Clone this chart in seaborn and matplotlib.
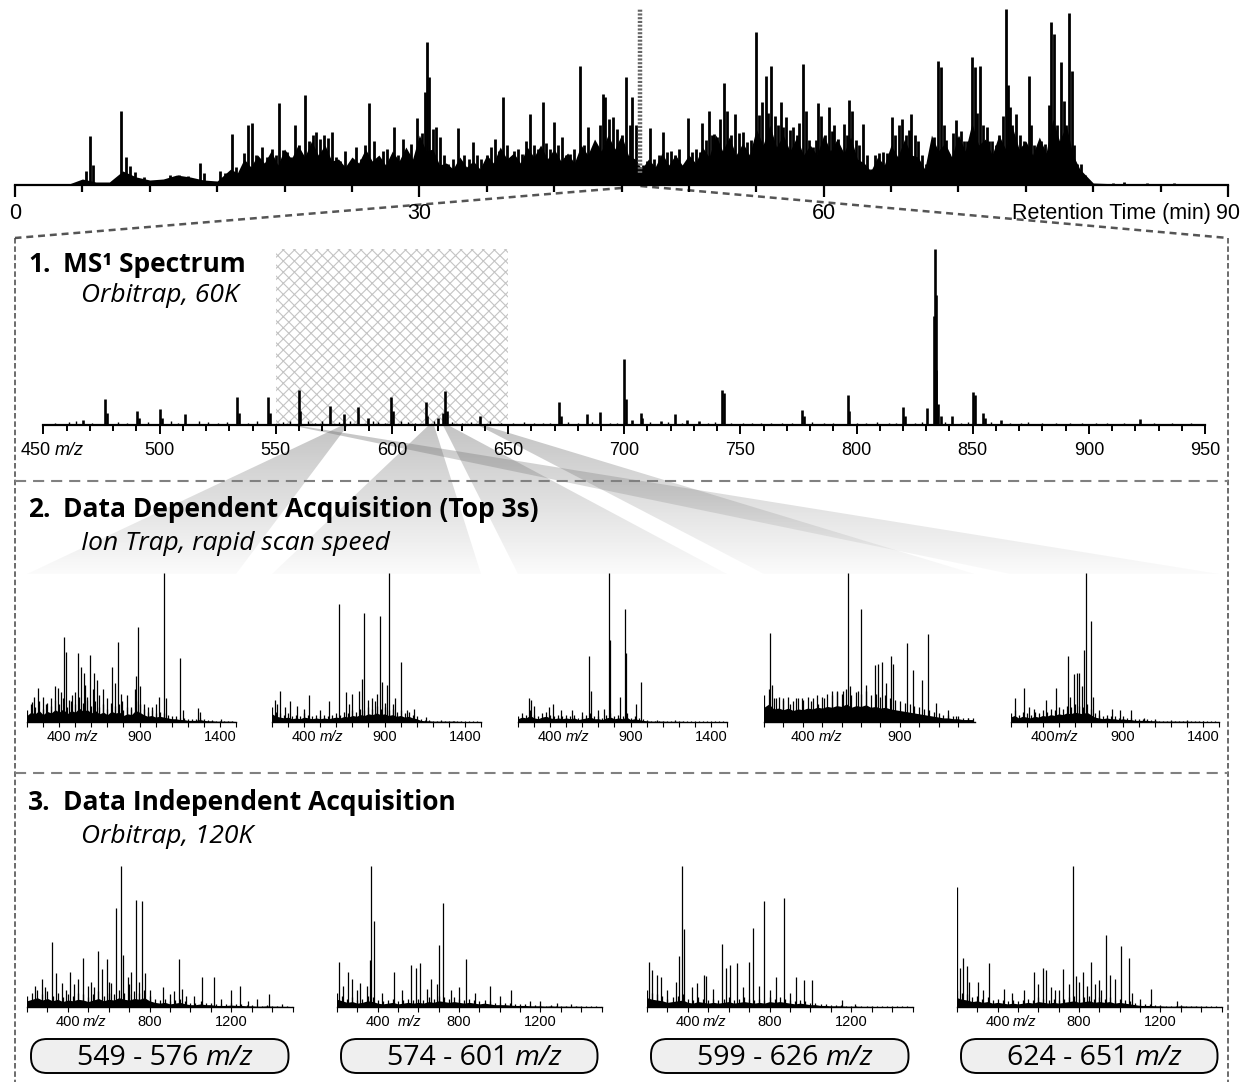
import numpy as np
import matplotlib
matplotlib.use("Agg")
import matplotlib.pyplot as plt
import seaborn as sns
from matplotlib.patches import Polygon, FancyBboxPatch, Rectangle

# ------------------------------------------------------------------ data
# chromatogram: body level (1-min grid), local dips (half minutes) and spikes (min, rel. height)
chrom_env_t = list(range(0, 91))
chrom_env_h = [0, 0, 0, 0, 1, 6, 3, 3, 14, 8, 5, 6, 10, 8, 5, 4, 16, 26, 30, 34,
               36, 40, 44, 40, 26, 28, 36, 30, 34, 38, 50, 36, 22, 28, 24, 30, 38, 32, 38, 40,
               36, 32, 40, 46, 50, 50, 26, 26, 32, 30, 30, 38, 50, 48, 42, 56, 60, 50, 48, 40,
               50, 46, 48, 22, 28, 40, 46, 28, 50, 42, 50, 62, 46, 50, 58, 44, 48, 66, 60, 16,
               2, 1.5, 1.5, 1.5, 1.5, 1.5, 1.5, 1.5, 1.5, 1.5, 1.5]
chrom_dip_t = [16.5, 17.5, 18.5, 19.5, 20.5, 21.5, 22.5, 23.5, 24.5, 25.5, 26.5, 27.5, 28.5,
               29.5, 30.5, 31.5, 32.5, 33.5, 34.5, 35.5, 36.5, 37.5, 38.5, 39.5, 40.5, 41.5,
               42.5, 43.5, 44.5, 45.5, 46.5, 47.5, 48.5, 49.5, 50.5, 51.5, 52.5, 53.5, 54.5,
               55.5, 56.5, 57.5, 58.5, 59.5, 60.5, 61.5, 62.5, 63.5, 64.5, 65.5, 66.5, 67.5,
               68.5, 69.5, 70.5, 71.5, 72.5, 73.5, 74.5, 75.5, 76.5, 77.5, 78.5]
chrom_dip_h = [12, 18, 22, 20, 26, 28, 30, 24, 18, 22, 24, 20, 24,
               26, 34, 20, 16, 18, 16, 22, 26, 22, 28, 26, 24, 22,
               30, 34, 36, 30, 16, 18, 20, 20, 22, 28, 34, 30, 30,
               40, 38, 34, 30, 30, 34, 32, 26, 14, 20, 28, 30, 16,
               34, 28, 34, 40, 30, 36, 36, 30, 32, 44, 30]
chrom_pk_t = [4.8, 5.3, 5.6, 5.8, 7.9, 8.2, 8.5, 8.9, 9.6, 11.5, 12.2, 12.8, 13.7, 14.0, 15.2, 15.6,
              16.1, 16.4, 17.0, 17.3, 17.6, 17.9, 18.3, 18.7, 19.1, 19.4, 19.6, 19.9, 20.2, 20.5,
              20.8, 21.1, 21.5, 21.8, 22.1, 22.3, 22.6, 22.9, 23.2, 23.5, 23.8, 24.1, 24.5, 24.9,
              25.3, 25.7, 26.0, 26.3, 26.6, 26.9, 27.3, 27.6, 28.1, 28.4, 28.8, 29.1, 29.4, 29.8,
              30.2, 30.4, 30.6, 30.75, 31.0, 31.2, 31.5, 31.8, 32.1, 32.5, 32.9, 33.3, 33.7, 34.0,
              34.3, 34.6, 35.0, 35.3, 35.6, 35.9, 36.2, 36.5, 36.8, 37.0, 37.3, 37.6, 37.9, 38.2,
              38.5, 38.8, 39.2, 39.4, 39.7, 40.0, 40.3, 40.6, 40.9, 41.2, 41.5, 41.9, 42.2, 42.5,
              42.8, 43.1, 43.4, 43.6, 43.8, 44.1, 44.4, 44.7, 45.0, 45.3, 45.6, 45.8, 46.1, 46.6,
              46.9, 47.1, 47.4, 47.8, 48.1, 48.4, 48.7, 49.0, 49.3, 49.9, 50.2, 50.5, 50.8, 51.0,
              51.3, 51.5, 51.7, 51.9, 52.1, 52.3, 52.6, 52.8, 53.1, 53.4, 53.7, 54.0, 54.3, 54.6,
              55.0, 55.2, 55.4, 55.7, 55.9, 56.1, 56.4, 56.6, 56.8, 57.0, 57.2, 57.5, 57.7, 58.0,
              58.2, 58.5, 58.7, 58.9, 59.2, 59.4, 59.6, 59.8, 60.1, 60.4, 60.6, 60.8, 61.1, 61.5,
              61.7, 61.9, 62.1, 62.4, 62.6, 62.9, 63.2, 63.5, 63.8, 64.1, 64.4, 64.7, 65.1, 65.3,
              65.6, 65.8, 66.1, 66.3, 66.5, 66.8, 67.0, 67.3, 67.6, 67.9, 68.2, 68.5, 68.7, 68.9,
              69.1, 69.3, 69.6, 69.8, 70.0, 70.2, 70.4, 70.6, 71.0, 71.2, 71.4, 71.6, 71.8, 72.1,
              72.3, 72.5, 72.8, 73.0, 73.3, 73.5, 73.7, 73.8, 74.0, 74.3, 74.6, 74.9, 75.2, 75.4,
              75.6, 75.8, 76.1, 76.4, 76.7, 76.9, 77.1, 77.3, 77.6, 77.8, 78.0, 78.2, 78.4, 78.6,
              78.8, 79.1, 79.4, 79.6, 81.5, 82.3, 84.0, 86.0]
chrom_pk_h = [4, 14, 49, 20, 74, 28, 19, 13, 8, 10, 10, 9, 22, 12, 14, 12,
              51, 18, 32, 60, 62, 30, 38, 28, 36, 30, 82, 35, 33, 28,
              60, 40, 90, 44, 50, 53, 46, 50, 47, 53, 28, 24, 34, 22,
              38, 26, 40, 82, 44, 26, 34, 36, 58, 30, 46, 30, 41, 67,
              52, 93, 143, 108, 56, 58, 48, 30, 21, 26, 57, 30, 26, 43,
              30, 26, 30, 38, 46, 34, 88, 40, 28, 34, 36, 31, 44, 71,
              40, 36, 83, 42, 36, 63, 40, 48, 30, 31, 36, 119, 40, 58,
              34, 33, 60, 91, 88, 66, 68, 56, 50, 108, 60, 88, 60, 20,
              24, 57, 26, 30, 53, 33, 34, 30, 36, 67, 33, 36, 33, 62,
              45, 74, 50, 51, 48, 66, 102, 74, 50, 71, 52, 53, 43, 45,
              153, 70, 83, 109, 72, 119, 69, 60, 83, 58, 68, 55, 58, 50,
              62, 121, 74, 45, 38, 45, 82, 69, 50, 78, 54, 60, 46, 61,
              50, 85, 74, 45, 40, 61, 30, 16, 30, 32, 33, 32, 68, 50,
              60, 66, 50, 55, 71, 50, 44, 30, 21, 22, 48, 124, 118, 60,
              45, 31, 52, 65, 48, 54, 44, 44, 128, 118, 72, 119, 60, 58,
              44, 44, 40, 50, 69, 176, 100, 78, 60, 71, 50, 44, 109, 60,
              40, 28, 44, 41, 80, 163, 151, 60, 123, 84, 60, 172, 114, 40,
              21, 21, 10, 4, 2.5, 3, 2, 2]
chrom_ticks = [0, 30, 60, 90]
chrom_window_t = 46.4

# MS1 spectrum (m/z, % of base peak)
ms1_mz = [467, 476.5, 477.2, 490.3, 491.0, 500.3, 501.0, 511.0, 533.3, 534.0,
          546.7, 547.3, 560.0, 560.6, 573.2, 579.5, 585.3, 589.5, 599.6, 600.3,
          614.5, 615.2, 620.0, 621.8, 623.0, 623.6, 638.0, 672.0, 672.6, 684.0,
          689.5, 700.0, 700.6, 703.5, 707.0, 707.6, 716.0, 722.0, 727.0, 732.0,
          742.2, 742.9, 776.6, 777.2, 796.2, 796.8, 820.0, 820.7, 830.5, 833.3,
          833.6, 834.0, 834.4, 835.0, 836.5, 841.0, 850.3, 850.8, 854.5, 855.2,
          862.0, 922.0]
ms1_int = [3, 15, 7, 8, 4, 9, 4, 6, 16, 7,
           16, 7, 20, 8, 11, 6, 10, 4, 16, 8,
           13, 5, 4, 7, 19.5, 8, 5, 13, 5, 6,
           7.5, 37.5, 15, 3, 7, 4, 2, 6, 3, 2.5,
           20, 18, 8.5, 5, 17, 8, 10, 5, 9.5, 62,
           100, 74, 31, 12, 5, 5, 18.5, 17, 6.6, 4,
           3, 3.6]
ms1_minor_mz = [455, 461, 464, 471, 482, 486, 495, 505, 508, 517, 521, 525, 529, 538, 542,
                553, 556, 564, 567, 570, 577, 582, 592, 594, 597, 604, 607, 610, 618, 626,
                630, 634, 642, 647, 652, 657, 661, 665, 668, 676, 680, 686, 694, 697, 711,
                719, 725, 736, 739, 746, 751, 755, 759, 763, 768, 772, 781, 786, 790, 800,
                804, 809, 814, 817, 825, 828, 838, 845, 848, 858, 866, 871, 874, 880, 886,
                892, 897, 903, 908, 915, 928, 936, 944]
ms1_minor_int = [1, 1.5, 2, 1.2, 1.8, 1, 1.5, 2, 1.2, 2.2, 1.5, 1, 1.6, 1.2, 2,
                 1.5, 2.5, 2, 1.4, 2.2, 1.6, 2.5, 2, 1.5, 1.2, 2.4, 1.8, 1.4, 2, 1.6,
                 1.2, 1.8, 2, 1.4, 1.2, 1.6, 1, 1.4, 1.2, 1.6, 1, 1.5, 1.2, 1.4, 1.8,
                 1.5, 1.2, 1, 1.5, 1.2, 1, 1.4, 1.2, 1, 1.4, 1.2, 1.6, 1, 1.2, 1.4,
                 1.2, 1.5, 1, 1.2, 1.4, 1.6, 1.5, 1.2, 1.8, 1.6, 1.2, 1.4, 1.6, 1.2, 1,
                 1.2, 1, 1.2, 1, 1.2, 1, 1.2, 1]
ms1_window = [550, 650]
ms1_ticks = [450, 500, 550, 600, 650, 700, 750, 800, 850, 900, 950]

# DDA MS/MS spectra (noise envelope every 25 m/z from 200; peaks m/z, %)
dda1_noise = [8, 12, 10, 14, 9, 13, 11, 15, 12, 16, 10, 14, 12, 17, 13, 15, 11, 14, 10, 12,
              9, 13, 11, 12, 8, 10, 9, 14, 12, 9, 7, 8, 6, 7, 6, 5, 4, 4, 3, 3,
              2, 2, 2, 3, 2, 1.5, 1.5, 1, 1, 1, 1, 1, 0.5]
dda1_mz = [229, 242, 271, 298, 320, 352, 377, 394, 410, 431, 441, 463, 480, 500, 519, 537, 554,
           560, 573, 593, 610, 618, 635, 650, 672, 700, 726, 745, 763, 782, 790, 820, 844, 870,
           880, 890, 900, 930, 954, 980, 1000, 1023, 1055, 1065, 1151, 1168, 1261, 1274, 1409]
dda1_int = [13.5, 17, 23, 16.5, 12, 16, 24, 23, 20, 57, 47, 15, 18, 20, 46, 37, 33,
            25, 17, 45, 22, 33, 28, 18, 22, 16, 37, 26, 54, 19, 14, 18, 10, 22,
            31, 64, 24, 12, 10, 10, 12, 17, 100, 16, 43, 8, 9.5, 7, 2]
dda2_noise = [10, 7, 6, 5, 6, 4, 5, 4, 6, 5, 4, 5, 4, 5, 4, 5, 6, 5, 7, 6,
              8, 7, 9, 8, 10, 9, 11, 9, 10, 8, 9, 7, 8, 6, 7, 5, 4, 2, 1.5, 1.5,
              1, 1, 1, 1, 1, 1, 0.8, 0.8, 0.5, 0.5, 0.5, 0.5, 0.5]
dda2_mz = [217, 230, 249, 280, 315, 356, 400, 433, 500, 554, 618, 659, 680, 696, 740, 757,
           774, 800, 819, 840, 856, 870, 887, 900, 917, 927, 950, 966, 1005, 1040, 1084,
           1155, 1250, 1330]
dda2_int = [15, 12, 21, 10, 14, 11, 9, 18, 8, 14, 79, 20, 12, 19, 21, 29,
            73, 15, 16, 14, 19, 71, 27, 13, 25, 100, 12, 16, 40, 8, 9,
            3.5, 1.5, 1]
dda3_noise = [4, 6, 5, 8, 5, 4, 6, 7, 5, 4, 5, 4, 5, 4, 5, 3, 4, 5, 6, 4,
              4, 3, 5, 6, 4, 5, 4, 6, 3, 4, 3, 2, 1.5, 1, 1, 1, 1, 0.8, 0.8, 0.8,
              0.8, 0.8, 0.5, 0.5, 0.5, 0.5, 0.5, 0.5, 0.5, 0.5, 0.5, 0.5, 0.5]
dda3_mz = [268, 278, 300, 393, 420, 467, 536, 600, 639, 656, 700, 737, 764, 770, 834, 866,
           873, 932, 964, 1067, 1176]
dda3_int = [16, 15, 11, 10, 12, 8, 8, 7, 44, 21, 8, 9, 100, 55, 17, 76,
            46, 12, 27, 1.5, 1.5]
dda4_noise = [18, 22, 16, 17, 15, 17, 14, 16, 15, 17, 16, 18, 17, 19, 18, 20, 19, 22, 18, 20,
              19, 21, 18, 19, 17, 18, 16, 15, 14, 13, 12, 11, 10, 9, 8, 7, 6, 5, 5, 4,
              4, 3, 3, 3]
dda4_mz = [231, 239, 261, 298, 333, 363, 394, 441, 480, 508, 553, 578, 608, 633, 645, 686,
           702, 727, 771, 790, 808, 829, 857, 867, 939, 969, 1016, 1043, 1088, 1149, 1190, 1251]
dda4_int = [60, 25, 16, 16, 12, 16, 16, 14, 12, 16, 21, 21, 21, 100, 24, 21,
            76, 25, 38, 39, 40, 26, 44, 39, 53, 35, 28, 59, 13, 8, 4, 3]
dda5_noise = [6, 8, 5, 7, 6, 5, 7, 6, 8, 7, 9, 8, 10, 9, 11, 10, 12, 11, 10, 12,
              9, 6, 5, 4, 5, 4, 4, 3, 4, 3, 3, 2, 2, 2, 2, 1.5, 1.5, 1, 1, 1,
              1, 1, 1, 1, 1, 0.8, 0.8, 0.8, 0.5, 0.5, 0.5, 0.5, 0.5]
dda5_mz = [229, 283, 315, 346, 424, 485, 559, 571, 595, 615, 627, 644, 659, 673, 700, 717,
           754, 834, 883, 949, 1034, 1100, 1200, 1300, 1400]
dda5_int = [16, 23, 10, 9, 15, 23, 44, 17, 32, 33, 33, 24, 48, 100, 68, 17,
            8, 9, 8, 8, 3, 2, 1.5, 1.5, 1]
dda_xmax = [1500, 1500, 1500, 1285, 1500]
dda_precursor = [580, 617, 623, 638, 557]

# DIA spectra
dia1_noise = [8, 10, 12, 9, 11, 8, 10, 7, 9, 8, 10, 9, 7, 9, 11, 8, 10, 9, 12, 10,
              9, 11, 10, 12, 8, 6, 5, 6, 4, 5, 6, 4, 3, 3, 4, 3, 3, 2, 2, 2,
              2.5, 2, 2, 1.5, 1.5, 1, 1, 1.5, 1, 1, 0.8, 0.8, 0.5]
dia1_mz = [240, 272, 290, 320, 340, 369, 390, 412, 430, 452, 476, 500, 515, 530, 550, 569,
           592, 600, 612, 635, 660, 670, 693, 700, 709, 732, 750, 761, 777, 800, 864, 900,
           922, 946, 961, 980, 1020, 1058, 1117, 1150, 1198, 1243, 1280, 1326, 1383, 1450]
dia1_int = [15, 20, 14, 46, 24, 17, 12, 25, 16, 20, 35, 15, 18, 14, 40, 27,
            34, 18, 17, 70, 100, 37, 21, 16, 25, 76, 18, 75, 24, 12, 14, 9,
            11, 34, 13, 8, 8, 21, 21, 6, 12, 15, 4, 6, 9, 2]
dia2_noise = [10, 8, 6, 7, 5, 6, 8, 7, 5, 4, 5, 6, 4, 5, 6, 5, 6, 5, 7, 6,
              8, 7, 6, 7, 6, 5, 6, 5, 4, 5, 4, 3, 3, 3, 2.5, 2, 2, 2, 1.5, 1.5,
              1.5, 1, 1.5, 1, 1, 1, 0.8, 1, 0.8, 0.5, 0.5, 0.5, 0.5]
dia2_mz = [212, 230, 254, 274, 300, 313, 348, 361, 367, 381, 420, 478, 520, 565, 588, 608,
           640, 662, 691, 701, 720, 760, 800, 833, 880, 950, 1000, 1056, 1150, 1200, 1280, 1350]
dia2_int = [32, 15, 25, 20, 12, 17, 15, 33, 100, 61, 10, 25, 12, 30, 28, 31,
            13, 20, 16, 44, 74, 12, 14, 34, 10, 15, 8, 12, 4, 4, 3, 2]
dia3_noise = [12, 10, 9, 8, 6, 7, 8, 9, 6, 5, 7, 6, 5, 6, 5, 6, 7, 5, 6, 7,
              6, 5, 6, 5, 7, 6, 7, 6, 5, 4, 5, 4, 3, 3, 2, 2, 1.5, 1.5, 1.5, 1,
              1, 1, 0.8, 0.8, 0.8, 0.5, 0.5, 0.5, 0.5, 0.5, 0.5, 0.5, 0.5]
dia3_mz = [208, 223, 249, 268, 300, 340, 359, 369, 379, 420, 443, 480, 489, 524, 565, 588,
           608, 641, 670, 701, 720, 750, 771, 800, 833, 872, 900, 928, 967, 1008, 1155, 1220]
dia3_int = [32, 26, 23, 21, 12, 18, 36, 100, 55, 14, 17, 23, 22, 13, 45, 28,
            30, 31, 14, 32, 56, 15, 75, 12, 21, 77, 10, 21, 19, 19, 5, 2]
dia4_noise = [12, 10, 9, 7, 8, 6, 7, 5, 6, 5, 4, 5, 4, 5, 6, 5, 7, 6, 5, 6,
              5, 6, 7, 8, 6, 7, 8, 6, 7, 6, 7, 5, 6, 5, 4, 3, 2, 2, 2, 1.5,
              1.5, 1, 1, 1, 1.5, 1, 1, 1, 0.8, 0.8, 0.5, 0.5, 0.5]
dia4_mz = [202, 216, 231, 247, 260, 303, 330, 359, 429, 470, 530, 579, 600, 621, 635, 660,
           683, 700, 722, 750, 770, 786, 800, 819, 840, 858, 880, 897, 910, 930, 950, 979,
           1008, 1045, 1060, 1100, 1153, 1283]
dia4_int = [85, 28, 35, 29, 18, 18, 12, 31, 13, 10, 12, 25, 16, 28, 26, 14,
            12, 12, 27, 16, 100, 22, 18, 25, 15, 32, 16, 19, 12, 51, 23, 20,
            43, 35, 10, 6, 13, 4]
dia_windows = [("549", "576"), ("574", "601"), ("599", "626"), ("624", "651")]

# ------------------------------------------------------------------ style / layout
W, H = 1240, 1082
sns.set_theme(style="white")
plt.rcParams["font.family"] = ["Liberation Sans", "DejaVu Sans"]
plt.rcParams["text.color"] = "black"
plt.rcParams["lines.scale_dashes"] = False
plt.rcParams["hatch.linewidth"] = 0.8
TXT = ["Open Sans", "DejaVu Sans"]

fig = plt.figure(figsize=(W / 100, H / 100), dpi=100)
fig.patch.set_facecolor("white")

ov = fig.add_axes([0, 0, 1, 1], zorder=1)
ov.set_xlim(0, W)
ov.set_ylim(H, 0)
ov.axis("off")
ov.patch.set_alpha(0)


def add_ax(l, t, r, b):
    ax = fig.add_axes([l / W, 1 - b / H, (r - l) / W, (b - t) / H], zorder=3)
    ax.patch.set_alpha(0)
    sns.despine(ax=ax, left=True)
    ax.spines["bottom"].set_color("black")
    ax.set_yticks([])
    return ax


def to_ov(ax, x, y):
    return ov.transData.inverted().transform(ax.transData.transform((x, y)))


# ---------------- chromatogram
axc = add_ax(15, 8, 1228, 185)
axc.set_xlim(0, 90)
axc.set_ylim(0, 177)
body_t = np.array(chrom_env_t + chrom_dip_t, dtype=float)
body_h = np.array(chrom_env_h + chrom_dip_h, dtype=float)
order = np.argsort(body_t)
axc.fill_between(body_t[order], 0, body_h[order], color="black", lw=0)
axc.vlines(chrom_pk_t, 0, chrom_pk_h, color="black", lw=2.0)
axc.vlines(chrom_window_t, 12, 177, color="#666666", lw=3.2, linestyles=[(0, (1.5, 1.2))])
axc.spines["bottom"].set_linewidth(1.6)
axc.set_xticks(chrom_ticks)
axc.set_xticks(np.arange(5, 90, 5), minor=True)
axc.tick_params(axis="x", which="major", bottom=True, length=8.6, width=1.6, pad=4,
                labelsize=15.5, colors="black", direction="out")
axc.tick_params(axis="x", which="minor", bottom=True, length=5, width=1.6, colors="black",
                direction="out")
axc.annotate("Retention Time (min)", xy=(90, 0), xycoords="data", xytext=(-12, -12.6),
             textcoords="offset points", ha="right", va="top", fontsize=15.5, color="black")

# ---------------- MS1
ax1 = add_ax(43.5, 249, 1205, 425)
ax1.set_xlim(450, 950)
ax1.set_ylim(0, 100)
ax1.add_patch(Rectangle((ms1_window[0], 0), ms1_window[1] - ms1_window[0], 100,
                        facecolor="none", edgecolor="#c4c4c4", hatch="xxx", lw=0, zorder=0))
ax1.vlines(ms1_minor_mz, 0, ms1_minor_int, color="black", lw=1.0)
ax1.vlines(ms1_mz, 0, ms1_int, color="black", lw=1.9)
ax1.spines["bottom"].set_linewidth(1.6)
ax1.set_xticks(ms1_ticks)
ax1.set_xticklabels([""] + [str(v) for v in ms1_ticks[1:]])
ax1.set_xticks(np.arange(460, 950, 10), minor=True)
ax1.tick_params(axis="x", which="major", bottom=True, length=6.5, width=1.4, pad=6,
                labelsize=13, colors="black", direction="out")
ax1.tick_params(axis="x", which="minor", bottom=True, length=4.5, width=1.4, colors="black",
                direction="out")
ax1.annotate("450", xy=(450, 0), xytext=(5, -12.5), textcoords="offset points",
             ha="right", va="top", fontsize=13, color="black")
ax1.annotate("m/z", xy=(450, 0), xytext=(8, -12.5), textcoords="offset points",
             ha="left", va="top", fontsize=13, style="italic", color="black")


def draw_spec(ax, xmax, noise, mz, inten, ticks, labels, mz_off, lab_size):
    ax.set_xlim(200, xmax)
    ax.set_ylim(0, 100)
    nx = np.arange(200, 200 + 25 * len(noise), 25)
    ax.fill_between(nx, 0, np.asarray(noise) * 0.55, color="black", lw=0)
    ax.vlines(nx, 0, noise, color="black", lw=0.9)
    ax.vlines(mz, 0, inten, color="black", lw=0.9)
    ax.spines["bottom"].set_linewidth(1.0)
    ax.set_xticks(ticks)
    ax.set_xticklabels([str(t) if t in labels else "" for t in ticks])
    ax.tick_params(axis="x", which="major", bottom=True, length=3.6, width=0.8, pad=2.5,
                   labelsize=lab_size, colors="black", direction="out")
    ax.annotate("m/z", xy=(400, 0), xytext=(mz_off, -6.1), textcoords="offset points",
                ha="left", va="top", fontsize=lab_size, style="italic", color="black")


# ---------------- DDA
dda_left = [27, 272, 518, 764, 1010.5]
dda_right = [236, 481, 727, 974.5, 1219]
dda_noise = [dda1_noise, dda2_noise, dda3_noise, dda4_noise, dda5_noise]
dda_mzs = [dda1_mz, dda2_mz, dda3_mz, dda4_mz, dda5_mz]
dda_ints = [dda1_int, dda2_int, dda3_int, dda4_int, dda5_int]
dda_mzoff = [11.5, 11.5, 11.5, 11.5, 8.5]
dda_axes = []
for i in range(5):
    ax = add_ax(dda_left[i], 573, dda_right[i], 722)
    ticks = list(range(200, int(dda_xmax[i]) + 1, 100))
    draw_spec(ax, dda_xmax[i], dda_noise[i], dda_mzs[i], dda_ints[i], ticks,
              [400, 900, 1400], dda_mzoff[i], 10.5)
    dda_axes.append(ax)

# ---------------- DIA
dia_left = [27, 337, 647, 957]
dia_right = [292.5, 601.5, 912.5, 1221.5]
dia_noise = [dia1_noise, dia2_noise, dia3_noise, dia4_noise]
dia_mzs = [dia1_mz, dia2_mz, dia3_mz, dia4_mz]
dia_ints = [dia1_int, dia2_int, dia3_int, dia4_int]
dia_mzoff = [10.5, 14.5, 10.5, 10.5]
for i in range(4):
    ax = add_ax(dia_left[i], 866, dia_right[i], 1007)
    draw_spec(ax, 1500, dia_noise[i], dia_mzs[i], dia_ints[i], list(range(200, 1501, 100)),
              [400, 800, 1200], dia_mzoff[i], 10.5)
    bx0, bx1 = dia_left[i] + 4, dia_right[i] - 4
    ov.add_patch(FancyBboxPatch((bx0, 1039), bx1 - bx0, 34,
                                boxstyle="round,pad=0,rounding_size=16",
                                facecolor="#efefef", edgecolor="black", lw=1.4, zorder=5))
    cx = (bx0 + bx1) / 2
    lo, hi = dia_windows[i]
    ov.text(cx + 39, 1065, f"{lo} - {hi}", ha="right", va="baseline", fontsize=20.5,
            family=TXT, color="black", zorder=6)
    ov.text(cx + 45, 1065, "m/z", ha="left", va="baseline", fontsize=20.5, style="italic",
            family=TXT, color="black", zorder=6)

# ---------------- connector wedges (MS1 precursor -> DDA spectrum)
grad = np.zeros((120, 2, 4))
grad[..., :3] = 0.45
grad[..., 3] = np.linspace(0.42, 0.03, 120)[:, None]
for i in range(5):
    ax_x, ax_y = to_ov(ax1, dda_precursor[i], 0)
    bl = to_ov(dda_axes[i], 200, 0)[0]
    br = to_ov(dda_axes[i], dda_xmax[i], 0)[0]
    verts = [(ax_x - 2.5, ax_y), (ax_x + 2.5, ax_y), (br, 574), (bl, 574)]
    poly = Polygon(verts, closed=True, transform=ov.transData)
    im = ov.imshow(grad, extent=(0, W, 574, ax_y), aspect="auto", interpolation="bilinear",
                   zorder=0.5)
    im.set_clip_path(poly)
ov.set_xlim(0, W)
ov.set_ylim(H, 0)

# ---------------- dashed frame & zoom lines
lx, ly = to_ov(axc, 45, 0)
rx, ry = to_ov(axc, chrom_window_t, 0)
ov.plot([lx, 15], [ly + 3, 238], color="#555555", lw=1.8, dashes=(5, 3.5), zorder=2)
ov.plot([rx, 1228], [ry + 1, 238], color="#555555", lw=1.8, dashes=(5, 3.5), zorder=2)
ov.plot([15, 15], [238, H], color="#444444", lw=1.1, dashes=(4, 2), zorder=2)
ov.plot([1228, 1228], [238, H], color="#444444", lw=1.1, dashes=(4, 2), zorder=2)
for yy in (481, 773):
    ov.plot([15, 1228], [yy, yy], color="#808080", lw=1.5, dashes=(8, 5), zorder=2)


# ---------------- titles
def title(y, num, main, sub, ysub):
    ov.text(28, y, num, fontsize=19, fontweight="bold", family=TXT, va="baseline",
            color="black", zorder=6)
    ov.text(63, y, main, fontsize=19, fontweight="bold", family=TXT, va="baseline",
            color="black", zorder=6)
    ov.text(81, ysub, sub, fontsize=19, style="italic", family=TXT, va="baseline",
            color="black", zorder=6)


title(272, "1.", "MS\u00b9 Spectrum", "Orbitrap, 60K", 302)
title(517, "2.", "Data Dependent Acquisition (Top 3s)", "Ion Trap, rapid scan speed", 550)
title(810, "3.", "Data Independent Acquisition", "Orbitrap, 120K", 843)

fig.savefig("out.png", dpi=100, facecolor="white")
